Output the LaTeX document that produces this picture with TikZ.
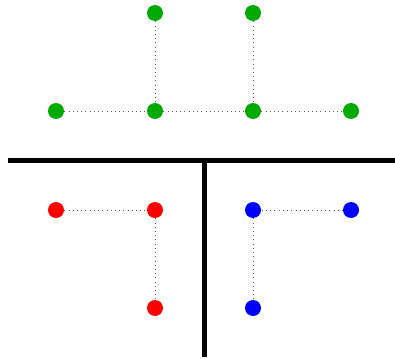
\documentclass[tikz,border=0pt]{standalone}
\usepackage{tikz}
\usetikzlibrary{positioning}
\definecolor{dotgreen}{RGB}{0,170,0}

\begin{document}
\begin{tikzpicture}[x=0.02cm,y=-0.02cm,
    dot/.style={circle,inner sep=0pt,minimum size=0.32cm,fill=#1},
    link/.style={dotted,gray!70!black,thin}]
  \useasboundingbox (0,0) rectangle (395,358);
  % Green tree
  \node[dot=dotgreen] (g1) at (155,13) {};
  \node[dot=dotgreen] (g2) at (253,13) {};
  \node[dot=dotgreen] (g3) at (56,111) {};
  \node[dot=dotgreen] (g4) at (155,111) {};
  \node[dot=dotgreen] (g5) at (253,111) {};
  \node[dot=dotgreen] (g6) at (351,111) {};
  \draw[link] (g3) -- (g4) -- (g5) -- (g6);
  \draw[link] (g1) -- (g4);
  \draw[link] (g2) -- (g5);
  % Separators
  \coordinate (hl) at (8,160.5);
  \coordinate (hr) at (395,160.5);
  \coordinate (vt) at (204.5,160.5);
  \coordinate (vb) at (204.5,357);
  \draw[line width=2.3pt] (hl) -- (hr);
  \draw[line width=2.3pt] (vt) -- (vb);
  % Red part
  \node[dot=red] (r1) at (56,210) {};
  \node[dot=red] (r2) at (155,210) {};
  \node[dot=red] (r3) at (155,308) {};
  \draw[link] (r1) -- (r2) -- (r3);
  % Blue part
  \node[dot=blue] (b1) at (253,210) {};
  \node[dot=blue] (b2) at (351,210) {};
  \node[dot=blue] (b3) at (253,308) {};
  \draw[link] (b2) -- (b1) -- (b3);
\end{tikzpicture}
\end{document}
